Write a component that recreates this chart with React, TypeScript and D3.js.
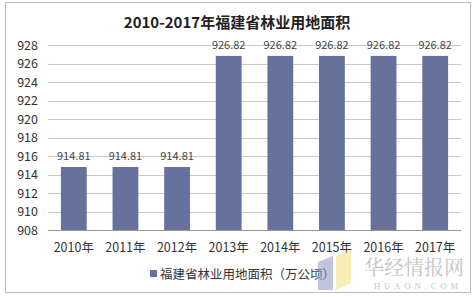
import React from "react";
import * as d3 from "d3";

const categories = ["2010年", "2011年", "2012年", "2013年", "2014年", "2015年", "2016年", "2017年"];
const values = [914.81, 914.81, 914.81, 926.82, 926.82, 926.82, 926.82, 926.82];
const yTicks = [908, 910, 912, 914, 916, 918, 920, 922, 924, 926, 928];
const title = "2010-2017年福建省林业用地面积";
const legendLabel = "福建省林业用地面积（万公顷）";

const W = 474;
const H = 297;
const margin = { left: 48, right: 13, top: 45, bottom: 67 };
const barColor = "#66729B";
const font = "'Noto Sans CJK SC', 'Noto Sans', sans-serif";

export default function App() {
  const x = d3
    .scaleBand<string>()
    .domain(categories)
    .range([margin.left, W - margin.right])
    .paddingInner(0.5)
    .paddingOuter(0.25);
  const y = d3.scaleLinear().domain([908, 928]).range([H - margin.bottom, margin.top]);

  return (
    <svg
      width={W}
      height={H}
      style={{ position: "absolute", left: 0, top: 0, background: "#fff" }}
      fontFamily={font}
    >
      <rect x={5.5} y={2.5} width={465} height={290} fill="#fff" stroke="#bdbdbd" strokeWidth={1} />
      <text x={237} y={28} textAnchor="middle" fontSize={15} fontWeight="bold" fill="#222">
        {title}
      </text>
      {yTicks.map((t) => (
        <g key={t}>
          <line
            x1={margin.left}
            x2={W - margin.right}
            y1={Math.round(y(t)) + 0.5}
            y2={Math.round(y(t)) + 0.5}
            stroke={t === 908 ? "#999" : "#c8c8c8"}
            strokeWidth={1}
          />
          <text x={38} y={y(t) + 4.5} textAnchor="end" fontSize={12.5} fill="#333">
            {t}
          </text>
        </g>
      ))}
      {categories.map((c, i) => (
        <g key={c}>
          <rect
            x={x(c)!}
            y={y(values[i])}
            width={x.bandwidth()}
            height={y(908) - y(values[i])}
            fill={barColor}
          />
          <text
            x={x(c)! + x.bandwidth() / 2}
            y={y(values[i]) - 7}
            textAnchor="middle"
            fontSize={11}
            fill="#444"
          >
            {values[i].toFixed(2)}
          </text>
          <text
            x={x(c)! + x.bandwidth() / 2}
            y={252}
            textAnchor="middle"
            fontSize={12.5}
            fill="#333"
          >
            {c}
          </text>
        </g>
      ))}
      <rect x={150} y={270} width={7} height={7} fill={barColor} />
      <text x={160} y={278.5} fontSize={12.5} fill="#333">
        {legendLabel}
      </text>
      <g opacity={0.55}>
        <path d="M318,262 L333,256 L333,290 L318,290 Z" fill="#8f97bf" />
        <path d="M336,256 L351,250 L351,283 L336,290 Z" fill="#f3e07a" />
      </g>
      <text x={414} y={275} textAnchor="middle" fontSize={20} fill="#c4c4c4" fontFamily="'Noto Serif CJK SC', 'Noto Sans CJK SC', serif">
        华经情报网
      </text>
      <text x={418} y={289} textAnchor="middle" fontSize={8.5} fill="#c4c4c4" letterSpacing={4} fontFamily="'Liberation Serif', serif">
        HUAON.COM
      </text>
    </svg>
  );
}
